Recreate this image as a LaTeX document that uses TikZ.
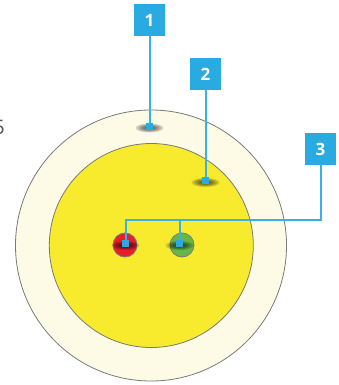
\documentclass[tikz,border=0pt]{standalone}
\usepackage{fontspec}
\setmainfont{Open Sans}
\definecolor{cream}{HTML}{FDFAE6}
\definecolor{yel}{HTML}{F8EB2E}
\definecolor{redc}{HTML}{E81F2A}
\definecolor{greenc}{HTML}{67B746}
\definecolor{bluec}{HTML}{29AAE1}
\definecolor{leadc}{HTML}{3AB1E4}
\definecolor{rim}{HTML}{7A7A78}
\definecolor{txtgray}{HTML}{58595B}
\begin{document}
\begin{tikzpicture}[x=1pt,y=-1pt,
  labelbox/.style={fill=bluec, text=white, font=\bfseries\fontsize{17}{17}\selectfont, minimum width=31pt, minimum height=32pt, inner sep=0pt},
  marker/.style={fill=bluec, minimum size=7pt, inner sep=0pt},
  lead/.style={draw=leadc, line width=2pt},
  shadowe/.style={fill=black, fill opacity=0.14},
  ring/.style={draw=rim, line width=0.8pt, circle, inner sep=0pt}]
\useasboundingbox (0,0) rectangle (338,385);
\fill[white] (0,0) rectangle (338,385);
% rings
\node[ring, fill=cream, minimum size=271pt] (outer) at (151,245.5) {};
\node[ring, fill=yel, minimum size=204pt] (inner) at (151.3,245.5) {};
\node[ring, fill=redc, minimum size=24pt] (red) at (125,245) {};
\node[ring, fill=greenc, minimum size=24pt] (green) at (182,245) {};
% shadows
\foreach \cx/\cy in {149.5/128, 205.5/182.5, 125.5/245.5, 179.5/245.5}{
  \foreach \s in {1.0,0.85,0.7,0.55,0.4,0.25}{
    \fill[shadowe] (\cx,\cy) ellipse [x radius=14*\s, y radius=4.5*\s];
  }
}
% label boxes
\node[labelbox] (b1) at (149.5,20) {1};
\node[labelbox] (b2) at (205.5,74) {2};
\node[labelbox] (b3) at (320.5,149) {3};
% markers
\node[marker] (m1) at (149.5,126.5) {};
\node[marker] (m2) at (205.5,180.5) {};
\node[marker] (m3) at (125.5,243.5) {};
\node[marker] (m4) at (179.5,243.5) {};
% leaders
\coordinate (j) at (320.5,219.5);
\draw[lead] (b1.south) -- (m1.north);
\draw[lead] (b2.south) -- (m2.north);
\draw[lead] (b3.south) -- (j) -| (m3.north);
\draw[lead] (m4.north |- j) -- (m4.north);
% cropped text at left
\node[anchor=east, text=txtgray, font=\fontsize{20}{20}\selectfont, inner sep=0pt] (five) at (5,127.5) {5};
\end{tikzpicture}
\end{document}
